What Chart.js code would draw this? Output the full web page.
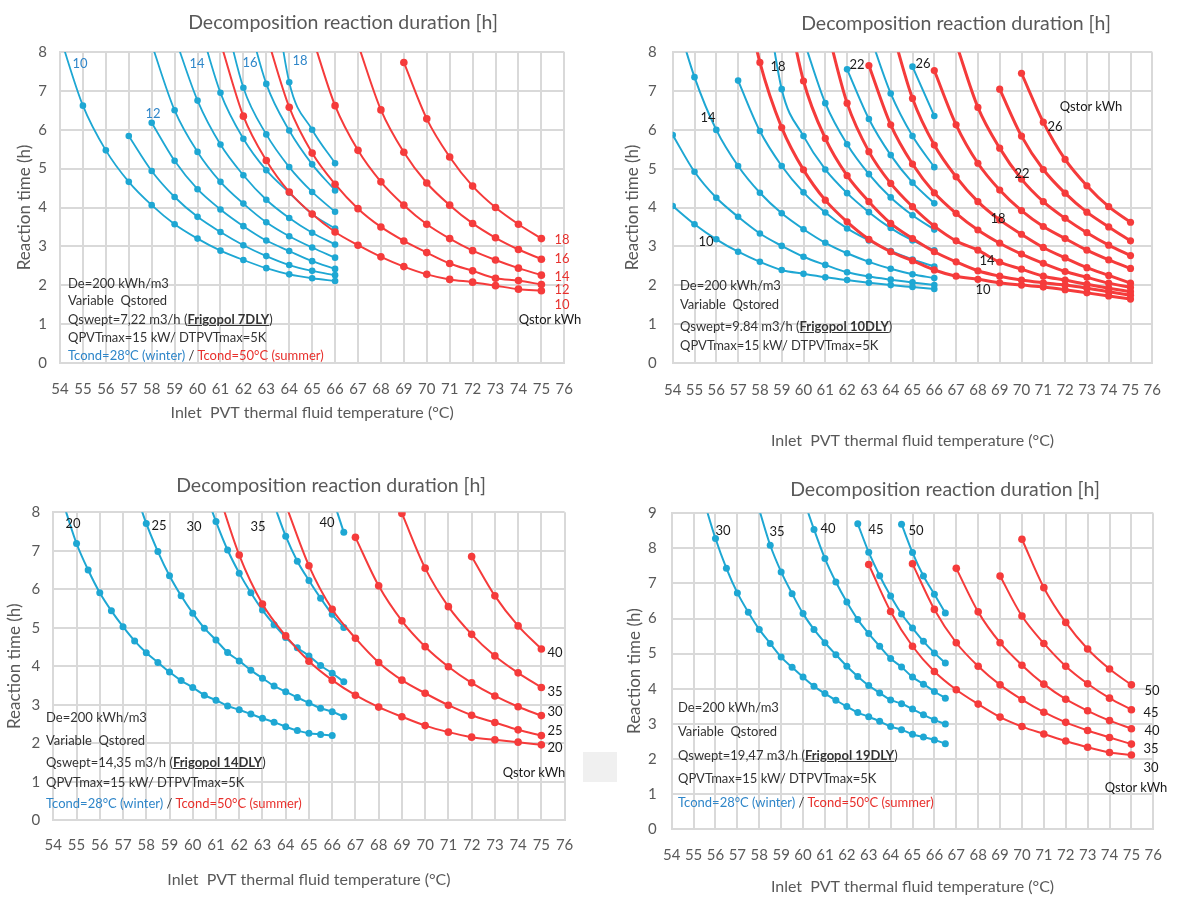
<!DOCTYPE html>
<html>
<head>
<meta charset="utf-8">
<title>Decomposition reaction duration</title>
<script src="https://cdn.jsdelivr.net/npm/chart.js@4.4.1/dist/chart.umd.min.js"></script>
<style>
  html, body { margin: 0; padding: 0; background: #fff; }
  body { position: relative; width: 1179px; height: 902px; overflow: hidden;
         font-family: Lato, "Open Sans", sans-serif; }
  canvas { position: absolute; }
  .t { position: absolute; white-space: nowrap; transform: translate(-50%, -50%); }
  .title { font-size: 19.5px; color: #595959; }
  .lbl { font-size: 13px; color: #1a1a1a; }
  .blue { color: #2f86c9; }
  .red { color: #e8302c; }
  .note { position: absolute; white-space: pre; font-size: 13px; color: #333; transform: translateY(-50%); }
  .note b { text-decoration: underline; }
  .patch { position: absolute; background: #f0f0f0; }
</style>
</head>
<body>
<canvas id="c1" width="590" height="440" style="left:0;top:0"></canvas>
<canvas id="c2" width="579" height="470" style="left:600px;top:0"></canvas>
<canvas id="c3" width="590" height="437" style="left:0;top:465px"></canvas>
<canvas id="c4" width="579" height="437" style="left:600px;top:465px"></canvas>

<div class="t title" style="left:343px;top:21px">Decomposition reaction duration [h]</div>
<div class="t title" style="left:956px;top:22px">Decomposition reaction duration [h]</div>
<div class="t title" style="left:331px;top:484px">Decomposition reaction duration [h]</div>
<div class="t title" style="left:945px;top:488px">Decomposition reaction duration [h]</div>

<!-- panel 1 notes -->
<div class="note" style="left:68px;top:283px">De=200 kWh/m3</div>
<div class="note" style="left:68px;top:300px">Variable  Qstored</div>
<div class="note" style="left:68px;top:319px">Qswept=7,22 m3/h (<b>Frigopol 7DLY</b>)</div>
<div class="note" style="left:68px;top:337px">QPVTmax=15 kW/ DTPVTmax=5K</div>
<div class="note" style="left:68px;top:355px"><span class="blue">Tcond=28°C (winter)</span> / <span class="red">Tcond=50°C (summer)</span></div>

<!-- panel 2 notes -->
<div class="note" style="left:680px;top:285px">De=200 kWh/m3</div>
<div class="note" style="left:680px;top:304px">Variable  Qstored</div>
<div class="note" style="left:680px;top:326px">Qswept=9.84 m3/h (<b>Frigopol 10DLY</b>)</div>
<div class="note" style="left:680px;top:345px">QPVTmax=15 kW/ DTPVTmax=5K</div>

<!-- panel 3 notes -->
<div class="note" style="left:46px;top:717px">De=200 kWh/m3</div>
<div class="note" style="left:46px;top:740px">Variable  Qstored</div>
<div class="note" style="left:46px;top:762px">Qswept=14,35 m3/h (<b>Frigopol 14DLY</b>)</div>
<div class="note" style="left:46px;top:782px">QPVTmax=15 kW/ DTPVTmax=5K</div>
<div class="note" style="left:46px;top:803px"><span class="blue">Tcond=28°C (winter)</span> / <span class="red">Tcond=50°C (summer)</span></div>
<div class="patch" style="left:583px;top:752px;width:34px;height:30px"></div>

<!-- panel 4 notes -->
<div class="note" style="left:678px;top:707px">De=200 kWh/m3</div>
<div class="note" style="left:678px;top:731px">Variable  Qstored</div>
<div class="note" style="left:678px;top:755px">Qswept=19,47 m3/h (<b>Frigopol 19DLY</b>)</div>
<div class="note" style="left:678px;top:778px">QPVTmax=15 kW/ DTPVTmax=5K</div>
<div class="note" style="left:678px;top:802px"><span class="blue">Tcond=28°C (winter)</span> / <span class="red">Tcond=50°C (summer)</span></div>

<div id="labels"></div>

<script>
// ---- data: reaction time (h) vs inlet temperature (°C) ----
// each row is one Qstored curve, starting at the matching "Start" temperature

// Frigopol 7DLY, 1 °C steps
const p1WinterStart = [54, 57, 58, 58, 59, 60, 61, 62, 63];
const p1Winter = [
  [8.4, 6.62, 5.47, 4.66, 4.06, 3.57, 3.2, 2.89, 2.65, 2.44, 2.28, 2.18, 2.11],
  [5.84, 4.94, 4.27, 3.76, 3.37, 3.03, 2.75, 2.52, 2.37, 2.26],
  [6.18, 5.2, 4.47, 3.95, 3.52, 3.15, 2.88, 2.62, 2.42],
  [8.2, 6.5, 5.43, 4.66, 4.1, 3.62, 3.26, 2.97, 2.71],
  [8.4, 6.75, 5.62, 4.83, 4.2, 3.73, 3.35, 3.05],
  [8.9, 6.95, 5.77, 4.96, 4.38, 3.83, 3.46],
  [9.4, 7.08, 5.88, 5.04, 4.4, 3.89],
  [9.3, 7.18, 5.98, 5.11, 4.44],
  [11, 7.22, 6.0, 5.14],
];
const p1SummerStart = [61, 63, 65, 67, 69];
const p1Summer = [
  [8.25, 6.35, 5.21, 4.4, 3.83, 3.37, 3.03, 2.73, 2.48, 2.28, 2.15, 2.08, 1.99, 1.9, 1.86],
  [8.45, 6.58, 5.4, 4.6, 3.97, 3.5, 3.14, 2.84, 2.56, 2.37, 2.18, 2.12, 2.02],
  [8.4, 6.62, 5.47, 4.66, 4.06, 3.57, 3.2, 2.89, 2.65, 2.44, 2.26],
  [8.2, 6.51, 5.42, 4.63, 4.06, 3.59, 3.22, 2.92, 2.67],
  [7.73, 6.28, 5.3, 4.55, 4.0, 3.57, 3.2],
];

// Frigopol 10DLY, 1 °C steps
const p2WinterStart = [54, 54, 54, 57, 58, 60, 62, 63, 65];
const p2Winter = [
  [4.04, 3.57, 3.18, 2.86, 2.6, 2.39, 2.29, 2.2, 2.13, 2.06, 2.0, 1.95, 1.9],
  [5.87, 4.92, 4.25, 3.76, 3.33, 3.01, 2.73, 2.52, 2.33, 2.22, 2.14, 2.07, 2.0],
  [9.2, 7.36, 6.0, 5.07, 4.38, 3.85, 3.44, 3.09, 2.82, 2.6, 2.42, 2.28, 2.18],
  [7.27, 5.97, 5.07, 4.39, 3.87, 3.46, 3.15, 2.88, 2.66, 2.48],
  [10.5, 7.05, 5.84, 4.98, 4.37, 3.88, 3.47, 3.15, 2.9],
  [8.33, 6.69, 5.63, 4.86, 4.26, 3.8, 3.43],
  [7.56, 6.28, 5.35, 4.64, 4.11],
  [8.52, 6.94, 5.84, 5.04],
  [7.63, 6.36],
];
const p2SummerStart = [57, 59, 61, 63, 64, 66, 67, 69, 70];
const p2Summer = [
  [10.3, 7.74, 6.06, 4.97, 4.19, 3.63, 3.18, 2.86, 2.63, 2.39, 2.23, 2.15, 2.06, 2.0, 1.95, 1.88, 1.8, 1.72, 1.64],
  [9.9, 7.26, 5.78, 4.82, 4.15, 3.59, 3.2, 2.86, 2.6, 2.37, 2.23, 2.13, 2.06, 2.0, 1.92, 1.83, 1.74],
  [8.8, 6.69, 5.44, 4.62, 4.02, 3.52, 3.14, 2.9, 2.59, 2.41, 2.23, 2.13, 2.02, 1.92, 1.83],
  [7.66, 6.13, 5.12, 4.38, 3.85, 3.42, 3.08, 2.8, 2.56, 2.35, 2.2, 2.05, 1.94],
  [8.7, 6.81, 5.61, 4.79, 4.15, 3.68, 3.31, 2.97, 2.7, 2.45, 2.25, 2.05],
  [7.53, 6.13, 5.14, 4.45, 3.92, 3.51, 3.2, 2.9, 2.65, 2.43],
  [8.23, 6.58, 5.53, 4.73, 4.15, 3.72, 3.35, 3.03, 2.76],
  [7.05, 5.84, 4.98, 4.37, 3.88, 3.5, 3.14],
  [7.46, 6.2, 5.24, 4.56, 4.02, 3.62],
];

// Frigopol 14DLY, winter in 0.5 °C steps, summer in 1 °C steps
const p3WinterStart = [54.5, 57.5, 60.5, 63.5, 66];
const p3Winter = [
  [8.1, 7.19, 6.5, 5.91, 5.44, 5.03, 4.66, 4.35, 4.1, 3.85, 3.63, 3.45, 3.25, 3.12, 2.97, 2.87, 2.76, 2.65, 2.55, 2.43, 2.33, 2.26, 2.23, 2.2],
  [8.6, 7.71, 6.98, 6.35, 5.83, 5.38, 4.99, 4.68, 4.36, 4.14, 3.9, 3.69, 3.49, 3.34, 3.19, 3.05, 2.91, 2.82, 2.69],
  [8.6, 7.76, 7.02, 6.42, 5.91, 5.46, 5.08, 4.75, 4.48, 4.27, 4.02, 3.82, 3.6],
  [8.2, 7.38, 6.73, 6.23, 5.77, 5.35, 5.01],
  [8.4, 7.48],
];
const p3SummerStart = [61, 64, 67, 69, 72];
const p3Summer = [
  [8.7, 6.89, 5.62, 4.79, 4.13, 3.64, 3.25, 2.94, 2.69, 2.46, 2.29, 2.16, 2.09, 2.03, 1.96],
  [8.2, 6.61, 5.48, 4.73, 4.1, 3.64, 3.3, 2.99, 2.73, 2.54, 2.35, 2.2],
  [7.35, 6.09, 5.18, 4.51, 3.99, 3.57, 3.23, 2.95, 2.72],
  [7.97, 6.55, 5.55, 4.83, 4.27, 3.83, 3.45],
  [6.85, 5.83, 5.05, 4.45],
];

// Frigopol 19DLY, winter in 0.5 °C steps, summer in 1 °C steps
const p4WinterStart = [55.5, 58, 60, 62.5, 64.5];
const p4Winter = [
  [9.3, 8.28, 7.43, 6.73, 6.18, 5.69, 5.29, 4.9, 4.61, 4.33, 4.07, 3.86, 3.67, 3.49, 3.32, 3.2, 3.07, 2.92, 2.83, 2.7, 2.62, 2.54, 2.43],
  [9.1, 8.09, 7.33, 6.71, 6.14, 5.69, 5.31, 4.97, 4.64, 4.35, 4.09, 3.88, 3.68, 3.57, 3.42, 3.26, 3.11, 2.99],
  [9.45, 8.54, 7.71, 7.04, 6.47, 5.97, 5.57, 5.21, 4.86, 4.62, 4.33, 4.13, 3.92, 3.73],
  [8.7, 7.89, 7.22, 6.64, 6.13, 5.73, 5.35, 5.02, 4.73],
  [8.69, 7.88, 7.21, 6.69, 6.16],
];
const p4SummerStart = [63, 65, 67, 69, 70];
const p4Summer = [
  [7.54, 6.2, 5.21, 4.49, 3.97, 3.56, 3.19, 2.92, 2.71, 2.51, 2.33, 2.18, 2.11],
  [7.56, 6.26, 5.31, 4.64, 4.11, 3.69, 3.33, 3.04, 2.81, 2.61, 2.42],
  [7.43, 6.19, 5.31, 4.67, 4.13, 3.7, 3.37, 3.09, 2.86],
  [7.21, 6.07, 5.29, 4.64, 4.14, 3.73, 3.4],
  [8.26, 6.88, 5.89, 5.13, 4.56, 4.11],
];

const tempMin = 54;
const tempMax = 76;

// ---- styling ----
const blue = '#1ea7d3';
const red = '#f53b3b';
const grey = '#595959';
const gridColor = '#d9d9d9';
const fontFamily = 'Lato, "Open Sans", sans-serif';

const toPoints = (start, values, step) => values.map((y, k) => ({ x: start + k * step, y }));

const curves = (starts, rows, step, color, width, radius) => rows.map((row, i) => ({
  data: toPoints(starts[i], row, step),
  borderColor: color,
  backgroundColor: color,
  pointBackgroundColor: color,
  pointBorderColor: color,
  pointBorderWidth: 0,
  pointRadius: radius,
  borderWidth: width,
  cubicInterpolationMode: 'monotone',
}));

// box = canvas [left, top, width, height], area = plot [left, top, right, bottom] in page px
const makePanel = (id, box, area, yMax, datasets, pads) => {
  const [cl, ct, cw, ch] = box;
  const [L, T, R, B] = area;
  return new Chart(document.getElementById(id), {
    type: 'line',
    data: { datasets },
    options: {
      responsive: false,
      animation: false,
      devicePixelRatio: 1,
      layout: { padding: { left: 0, top: T - ct, right: cl + cw - R, bottom: 0 } },
      plugins: { legend: { display: false }, tooltip: { enabled: false } },
      scales: {
        x: {
          type: 'linear',
          min: tempMin,
          max: tempMax,
          ticks: {
            stepSize: 1, autoSkip: false, maxRotation: 0, minRotation: 0,
            padding: pads.xTick, color: grey, font: { family: fontFamily, size: 15 },
          },
          grid: { color: gridColor, lineWidth: 2, drawTicks: false },
          border: { color: gridColor, width: 2 },
          title: {
            display: true,
            text: 'Inlet  PVT thermal fluid temperature (°C)',
            color: grey,
            font: { family: fontFamily, size: 16 },
            padding: { top: 0, bottom: pads.xTitle },
          },
          afterFit: (s) => { s.height = ct + ch - B; },
        },
        y: {
          min: 0,
          max: yMax,
          ticks: { stepSize: 1, padding: pads.yTick, color: grey, font: { family: fontFamily, size: 15 } },
          grid: { color: gridColor, lineWidth: 2, drawTicks: false },
          border: { color: gridColor, width: 2 },
          title: {
            display: true,
            text: 'Reaction time (h)',
            color: grey,
            font: { family: fontFamily, size: 17 },
            padding: { top: pads.yTitle, bottom: 0 },
          },
          afterFit: (s) => { s.width = L - cl; },
        },
      },
    },
  });
};

makePanel('c1', [0, 0, 590, 440], [60, 52, 572, 363], 8,
  [...curves(p1SummerStart, p1Summer, 1, red, 2, 3.8), ...curves(p1WinterStart, p1Winter, 1, blue, 1.8, 3.3)],
  { xTick: 17, xTitle: 17.4, yTick: 13, yTitle: 14.8 });

makePanel('c2', [600, 0, 579, 470], [672.7, 52.3, 1169.3, 362.7], 8,
  [...curves(p2SummerStart, p2Summer, 1, red, 3, 3.6), ...curves(p2WinterStart, p2Winter, 1, blue, 2, 3.3)],
  { xTick: 18, xTitle: 19.4, yTick: 16, yTitle: 22.8 });

makePanel('c3', [0, 465, 590, 437], [53.3, 512.3, 564.6, 820.3], 8,
  [...curves(p3SummerStart, p3Summer, 1, red, 2, 3.8), ...curves(p3WinterStart, p3Winter, 0.5, blue, 2, 3.5)],
  { xTick: 15.7, xTitle: 12.4, yTick: 13, yTitle: 4.8 });

makePanel('c4', [600, 465, 579, 437], [671.7, 513.3, 1157.4, 829], 9,
  [...curves(p4SummerStart, p4Summer, 1, red, 2, 3.8), ...curves(p4WinterStart, p4Winter, 0.5, blue, 2, 3.5)],
  { xTick: 17, xTitle: 5.4, yTick: 15, yTitle: 24.8 });

// ---- curve labels (page px) ----
const labelHost = document.getElementById('labels');
const addLabel = (x, y, text, cls) => {
  const d = document.createElement('div');
  d.className = 't lbl ' + (cls || '');
  d.style.left = x + 'px';
  d.style.top = y + 'px';
  d.textContent = text;
  labelHost.appendChild(d);
};

[[80, 63, '10'], [153, 113, '12'], [197, 63, '14'], [250, 62, '16'], [300, 60, '18']]
  .forEach(([x, y, s]) => addLabel(x, y, s, 'blue'));
[[562, 239, '18'], [562, 258, '16'], [562, 276, '14'], [562, 289, '12'], [562, 304, '10']]
  .forEach(([x, y, s]) => addLabel(x, y, s, 'red'));
addLabel(550, 319, 'Qstor kWh');

[[706, 241, '10'], [708, 117, '14'], [778, 66, '18'], [857, 64, '22'], [923, 63, '26'],
 [983, 289, '10'], [987, 260, '14'], [998, 218, '18'], [1022, 173, '22'], [1055, 126, '26']]
  .forEach(([x, y, s]) => addLabel(x, y, s));
addLabel(1091, 106, 'Qstor kWh');

[[73, 523, '20'], [159, 525, '25'], [194, 526, '30'], [258, 526, '35'], [327, 522, '40'],
 [555, 652, '40'], [555, 691, '35'], [555, 711, '30'], [555, 730, '25'], [555, 747, '20']]
  .forEach(([x, y, s]) => addLabel(x, y, s));
addLabel(534, 772, 'Qstor kWh');

[[723, 530, '30'], [777, 531, '35'], [828, 528, '40'], [876, 529, '45'], [916, 530, '50'],
 [1152, 690, '50'], [1151, 712, '45'], [1152, 730, '40'], [1151, 748, '35'], [1151, 767, '30']]
  .forEach(([x, y, s]) => addLabel(x, y, s));
addLabel(1136, 787, 'Qstor kWh');
</script>
</body>
</html>
